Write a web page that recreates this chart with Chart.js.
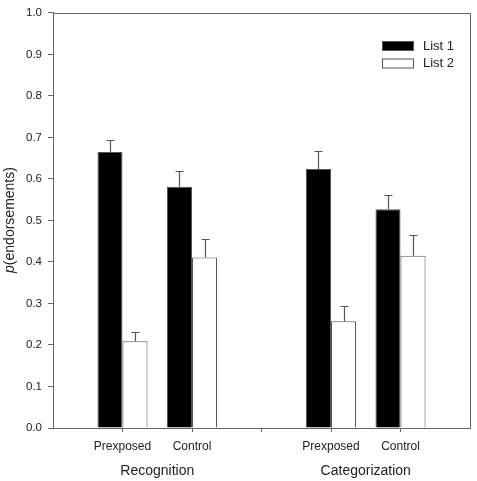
<!DOCTYPE html>
<html>
<head>
<meta charset="utf-8">
<script src="https://cdn.jsdelivr.net/npm/chart.js@4"></script>
<style>html,body{margin:0;padding:0;background:#fff;}canvas{display:block;}</style>
</head>
<body>
<canvas id="c" width="477" height="481"></canvas>
<script>
const categories = ['', 'Prexposed', 'Control', '', 'Prexposed', 'Control', ''];
const groups = ['Recognition', 'Categorization'];
const groupCenters = [1.5, 4.5];
const list1 = [null, 0.665, 0.581, null, 0.624, 0.527, null];
const list2 = [null, 0.209, 0.411, null, 0.257, 0.415, null];
const list1Err = [null, 0.029, 0.039, null, 0.043, 0.035, null];
const list2Err = [null, 0.023, 0.045, null, 0.036, 0.050, null];
const yTicks = [0, 0.1, 0.2, 0.3, 0.4, 0.5, 0.6, 0.7, 0.8, 0.9, 1.0];

const FONT = '"Liberation Sans", Arial, sans-serif';
const AXIS = '#666';

const errPlugin = {
  id: 'errbars',
  afterDatasetsDraw(chart) {
    const ctx = chart.ctx, y = chart.scales.y;
    ctx.save();
    ctx.strokeStyle = '#555';
    ctx.lineWidth = 1.2;
    chart.data.datasets.forEach((ds, di) => {
      const meta = chart.getDatasetMeta(di);
      meta.data.forEach((bar, i) => {
        if (ds.data[i] == null || ds.err[i] == null) return;
        const x = Math.round(bar.x) + 0.5;
        const y0 = y.getPixelForValue(ds.data[i]);
        const y1 = Math.round(y.getPixelForValue(ds.data[i] + ds.err[i])) + 0.5;
        ctx.beginPath();
        ctx.moveTo(x, y0); ctx.lineTo(x, y1);
        ctx.moveTo(x - 4, y1); ctx.lineTo(x + 4, y1);
        ctx.stroke();
      });
    });
    ctx.restore();
  }
};

const framePlugin = {
  id: 'frame',
  afterDraw(chart) {
    const ctx = chart.ctx, a = chart.chartArea, x = chart.scales.x;
    ctx.save();
    ctx.strokeStyle = AXIS;
    ctx.lineWidth = 1;
    ctx.beginPath();
    ctx.moveTo(Math.round(a.left) + 0.5, Math.round(a.top) + 0.5);
    ctx.lineTo(Math.round(a.right) + 0.5, Math.round(a.top) + 0.5);
    ctx.lineTo(Math.round(a.right) + 0.5, Math.round(a.bottom) + 0.5);
    ctx.stroke();
    // group labels
    ctx.fillStyle = '#222';
    ctx.font = '14px ' + FONT;
    ctx.textAlign = 'center';
    ctx.textBaseline = 'middle';
    groups.forEach((g, i) => ctx.fillText(g, x.getPixelForValue(groupCenters[i]), 471));
    // y title
    ctx.translate(10, 220);
    ctx.rotate(-Math.PI / 2);
    ctx.font = 'italic 14px ' + FONT;
    const p = 'p', rest = '(endorsements)';
    const wp = ctx.measureText(p).width;
    ctx.font = '14px ' + FONT;
    const wr = ctx.measureText(rest).width;
    const start = -(wp + wr) / 2;
    ctx.textAlign = 'left';
    ctx.font = 'italic 14px ' + FONT;
    ctx.fillText(p, start, 0);
    ctx.font = '14px ' + FONT;
    ctx.fillText(rest, start + wp, 0);
    ctx.restore();
    // legend
    ctx.save();
    ctx.font = '13px ' + FONT;
    ctx.textBaseline = 'middle';
    chart.data.datasets.forEach((ds, i) => {
      const ly = 41 + i * 17.5;
      ctx.fillStyle = ds.backgroundColor;
      ctx.fillRect(382, ly, 32, 10);
      ctx.strokeStyle = '#555';
      ctx.lineWidth = 1;
      ctx.strokeRect(382.5, ly + 0.5, 31, 9);
      ctx.fillStyle = '#222';
      ctx.fillText(ds.label, 423, ly + 5);
    });
    ctx.restore();
  }
};

new Chart(document.getElementById('c'), {
  type: 'bar',
  data: {
    labels: categories,
    datasets: [
      { label: 'List 1', data: list1, err: list1Err, backgroundColor: '#000', borderColor: '#555', borderWidth: 1, borderSkipped: 'bottom' },
      { label: 'List 2', data: list2, err: list2Err, backgroundColor: '#fff', borderColor: '#555', borderWidth: 1, borderSkipped: 'bottom' }
    ]
  },
  options: {
    responsive: false,
    animation: false,
    devicePixelRatio: 1,
    layout: { padding: { top: 10, right: 6, left: 0, bottom: 0 } },
    plugins: { legend: { display: false }, tooltip: { enabled: false } },
    datasets: { bar: { categoryPercentage: 0.72, barPercentage: 1.0 } },
    scales: {
      x: {
        type: 'category',
        offset: false,
        afterFit(s) { s.height = 53; },
        grid: {
          offset: false,
          drawOnChartArea: false,
          tickLength: 4,
          color: (c) => (c.index === 0 || c.index === categories.length - 1) ? 'rgba(0,0,0,0)' : AXIS
        },
        border: { color: AXIS, width: 1 },
        ticks: { color: '#222', font: { family: FONT, size: 12 }, padding: 7, maxRotation: 0, autoSkip: false }
      },
      y: {
        min: 0, max: 1,
        afterFit(s) { s.width = 53; },
        afterBuildTicks(s) { s.ticks = yTicks.map(v => ({ value: v })); },
        grid: { drawOnChartArea: false, tickLength: 5, color: AXIS },
        border: { color: AXIS, width: 1 },
        ticks: { color: '#222', font: { family: FONT, size: 11.5 }, padding: 6, callback: (v) => Number(v).toFixed(1) }
      }
    }
  },
  plugins: [errPlugin, framePlugin]
});
</script>
</body>
</html>
